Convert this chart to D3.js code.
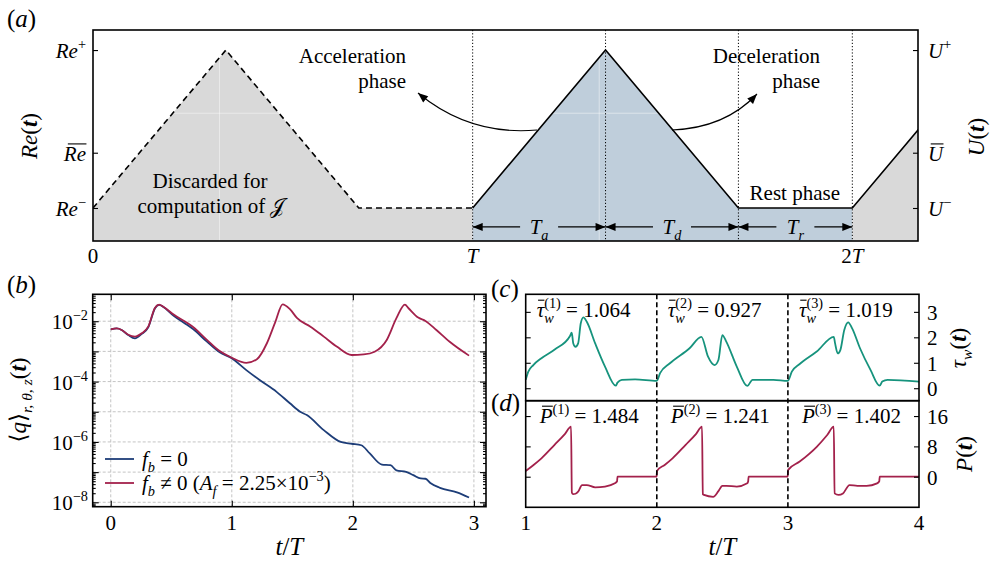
<!DOCTYPE html>
<html>
<head>
<meta charset="utf-8">
<script src="https://cdn.jsdelivr.net/npm/d3@7"></script>
<style>
  body { margin: 0; background: #fff; }
  text { font-family: "Liberation Serif", "DejaVu Serif", serif; fill: #000; }
</style>
</head>
<body>
<svg width="993" height="563"></svg>
<script>
// ---- values ----

// (a) one forcing cycle, t in units of T, Re scaled so that Re- = 0 and Re+ = 1
const cycleT = [0, 0.35, 0.70, 1.00];
const cycleRe = [0, 1, 0, 0];
const reMean = 0.35;
const phaseSubs = ["a", "d", "r"];
const aTickLabels = ["0", "T", "2T"];

// (b) log10 <q>_{r,theta,z}(t)
const blueT = [0, 0.05, 0.09, 0.145, 0.2, 0.256, 0.31, 0.366, 0.40, 0.435, 0.52, 0.63, 0.68, 0.79, 0.90,
  1.0, 1.12, 1.23, 1.37, 1.48, 1.565, 1.62, 1.76, 1.90, 1.99, 2.07, 2.14, 2.24, 2.31, 2.36,
  2.44, 2.50, 2.56, 2.60, 2.64, 2.72, 2.86, 2.96];
const blueQ = [-2.27, -2.24, -2.29, -2.46, -2.57, -2.42, -2.20, -1.57, -1.46, -1.53, -1.82, -2.12, -2.26, -2.66, -3.03,
  -3.23, -3.62, -3.95, -4.34, -4.72, -5.0, -5.11, -5.61, -6.0, -6.06, -6.11, -6.38, -6.75, -6.77, -6.94,
  -6.99, -7.10, -7.21, -7.22, -7.36, -7.52, -7.67, -7.84];
const redT = [0, 0.05, 0.09, 0.145, 0.2, 0.256, 0.31, 0.366, 0.40, 0.435, 0.52, 0.63, 0.68, 0.79, 0.90,
  1.0, 1.12, 1.21, 1.29, 1.36, 1.42, 1.48, 1.54, 1.65, 1.76, 1.87, 1.99, 2.09, 2.18, 2.28,
  2.36, 2.43, 2.46, 2.54, 2.60, 2.69, 2.80, 2.96];
const redQ = [-2.27, -2.24, -2.29, -2.45, -2.51, -2.40, -2.18, -1.55, -1.45, -1.52, -1.78, -2.05, -2.19, -2.60, -2.99,
  -3.21, -3.38, -3.25, -2.73, -2.02, -1.44, -1.60, -1.90, -2.18, -2.51, -2.85, -3.12, -3.10, -3.01, -2.62,
  -1.90, -1.45, -1.57, -1.88, -1.99, -2.29, -2.68, -3.14];
const bDecades = [-8, -7, -6, -5, -4, -3, -2];
const bLabelled = [-8, -6, -4, -2];
const bXTicks = [0, 1, 2, 3];

// (c) wall shear stress
const tauT = [1.0, 1.02, 1.058, 1.12, 1.224, 1.338, 1.351, 1.363, 1.38, 1.40, 1.42, 1.44, 1.466, 1.53, 1.605, 1.687, 1.70, 1.733, 1.834, 2.0,
  2.025, 2.10, 2.25, 2.34, 2.39, 2.44, 2.47, 2.50, 2.53, 2.61, 2.69, 2.73, 2.89, 3.0,
  3.03, 3.09, 3.22, 3.35, 3.36, 3.38, 3.40, 3.43, 3.46, 3.49, 3.55, 3.63, 3.70, 3.72, 3.76, 4.0];
const tauW = [0.33, 0.65, 0.91, 1.18, 1.53, 2.05, 2.18, 1.76, 1.63, 1.76, 2.55, 2.78, 2.61, 1.76, 0.85, 0.10, 0.22, 0.33, 0.35, 0.29,
  0.59, 0.98, 1.57, 2.02, 1.25, 0.91, 1.11, 2.09, 1.83, 0.85, 0.09, 0.33, 0.33, 0.29,
  0.65, 0.95, 1.44, 2.02, 1.76, 1.37, 1.50, 2.29, 2.59, 2.35, 1.57, 0.72, 0.10, 0.26, 0.33, 0.26];
const tauMeans = ["1.064", "0.927", "1.019"];
const cTicks = [0, 1, 2, 3];

// (d) pumping power
const pT = [1.0, 1.06, 1.12, 1.22, 1.30, 1.346, 1.352, 1.362, 1.38, 1.40, 1.43, 1.466, 1.53, 1.605, 1.68, 1.697, 1.70, 1.998,
  2.002, 2.06, 2.12, 2.22, 2.30, 2.345, 2.351, 2.36, 2.43, 2.47, 2.50, 2.53, 2.61, 2.69, 2.697, 2.70, 2.998,
  3.002, 3.09, 3.22, 3.30, 3.35, 3.356, 3.386, 3.42, 3.47, 3.53, 3.60, 3.68, 3.697, 3.70, 4.0];
const pVal = [1.5, 3.1, 4.85, 8.4, 11.3, 13.2, -4.2, -4.6, -4.5, -3.95, -2.2, -2.2, -2.8, -2.6, -1.75, -1.2, 0, 0,
  1.6, 3.1, 4.85, 8.4, 11.3, 13.2, -4.6, -4.8, -5.3, -3.8, -2.4, -2.4, -2.6, -1.75, -1.2, 0, 0,
  1.8, 4.0, 7.9, 11.0, 13.2, -4.4, -4.8, -4.4, -2.2, -2.4, -2.4, -1.75, -1.2, 0, 0];
const pMeans = ["1.484", "1.241", "1.402"];
const dTicks = [0, 8, 16];
const cdXTicks = [1, 2, 3, 4];

// ---- drawing ----
const svg = d3.select("svg");
const ink = "#000";
const navy = "#1d3d78", crimson = "#a3214b", teal = "#16937d";
const greyFill = "#d9d9d9", blueFill = "#bfcedb";

const defs = svg.append("defs");
defs.append("marker").attr("id", "head")
  .attr("viewBox", "0 0 10 8").attr("refX", 10).attr("refY", 4)
  .attr("markerWidth", 11).attr("markerHeight", 8).attr("markerUnits", "userSpaceOnUse")
  .attr("orient", "auto")
  .append("path").attr("d", "M0,0L10,4L0,8z").attr("fill", ink);

// text made of runs: italic, bold, sub, sup, bar (overline), stack (sup over the previous sub)
function rich(parent, x, y, runs, o = {}) {
  const size = o.size || 21;
  const g = parent.append("g");
  let cx = 0, start = 0;
  runs.forEach(r => {
    const small = r.sub || r.sup;
    const fs = small ? size * 0.68 : size;
    const dy = r.sub ? size * 0.27 : r.sup ? -size * 0.42 : 0;
    const x0 = r.stack ? start : cx;
    const t = g.append("text").attr("x", x0).attr("y", dy)
      .attr("font-size", fs)
      .attr("font-style", r.it ? "italic" : null)
      .attr("font-weight", r.b ? "bold" : null)
      .text(r.t);
    const w = t.node().getComputedTextLength();
    if (r.bar) {
      const yb = dy - fs * 0.8;
      g.append("line").attr("x1", x0 + w * 0.18).attr("x2", x0 + w * 1.02)
        .attr("y1", yb).attr("y2", yb).attr("stroke", ink).attr("stroke-width", 1.1);
    }
    if (r.stack) cx = Math.max(cx, x0 + w);
    else { start = x0; cx = x0 + w; }
  });
  const shift = o.anchor === "end" ? -cx : o.anchor === "middle" ? -cx / 2 : 0;
  g.attr("transform", `translate(${x},${y})${o.rot ? ` rotate(${o.rot})` : ""} translate(${shift},0)`);
  return g;
}

function tickMarks(g, axis, transform) {
  const t = g.append("g").attr("transform", transform).call(axis);
  t.select(".domain").remove();
  t.selectAll("text").remove();
  t.selectAll("line").attr("stroke", ink).attr("stroke-width", 1.1);
}

function frame(g, x0, x1, y0, y1) {
  g.append("rect").attr("x", x0).attr("y", y0).attr("width", x1 - x0).attr("height", y1 - y0)
    .attr("fill", "none").attr("stroke", ink).attr("stroke-width", 1.6);
}

const tLabel = [{ t: "t", it: 1 }, { t: "/" }, { t: "T", it: 1 }];

// ===== (a) =====
const xA = d3.scaleLinear().domain([0, 2.173]).range([93, 918]);
const yA = d3.scaleLinear().domain([-0.209, 1.127]).range([241, 30]);
const gA = svg.append("g");
defs.append("clipPath").attr("id", "clipA").append("rect")
  .attr("x", xA.range()[0]).attr("y", yA.range()[1])
  .attr("width", xA.range()[1] - xA.range()[0]).attr("height", yA.range()[0] - yA.range()[1]);

const wave = d3.range(3).flatMap(k => cycleT.map((t, i) => [k + t, cycleRe[i]]));
const first = wave.filter(d => d[0] <= 1);
const second = wave.filter(d => d[0] >= 1 && d[0] <= 2);
const rest = wave.filter(d => d[0] >= 2);
const areaA = d3.area().x(d => xA(d[0])).y0(yA.range()[0]).y1(d => yA(d[1]));
const lineA = d3.line().x(d => xA(d[0])).y(d => yA(d[1]));
const plotA = gA.append("g").attr("clip-path", "url(#clipA)");

plotA.append("path").datum(first).attr("d", areaA).attr("fill", greyFill);
plotA.append("path").datum(second).attr("d", areaA).attr("fill", blueFill);
plotA.append("path").datum(rest).attr("d", areaA).attr("fill", greyFill);

// faint white grid showing through the fills
[1 / 3, 4 / 3].forEach(v => plotA.append("line")
  .attr("x1", xA(v)).attr("x2", xA(v)).attr("y1", yA.range()[1]).attr("y2", yA.range()[0])
  .attr("stroke", "#fff").attr("stroke-opacity", 0.45));
plotA.append("line").attr("x1", xA.range()[0]).attr("x2", xA.range()[1])
  .attr("y1", yA(0.6)).attr("y2", yA(0.6)).attr("stroke", "#fff").attr("stroke-opacity", 0.45);

// phase boundaries
cycleT.map(t => 1 + t).forEach(v => plotA.append("line")
  .attr("x1", xA(v)).attr("x2", xA(v)).attr("y1", yA.range()[1]).attr("y2", yA.range()[0])
  .attr("stroke", ink).attr("stroke-width", 1).attr("stroke-dasharray", "1.2,2"));

plotA.append("path").datum(first).attr("d", lineA).attr("fill", "none")
  .attr("stroke", ink).attr("stroke-width", 1.6).attr("stroke-dasharray", "6,4");
plotA.append("path").datum(wave.filter(d => d[0] >= 1)).attr("d", lineA).attr("fill", "none")
  .attr("stroke", ink).attr("stroke-width", 1.6);

// phase duration arrows
const arrowY = yA(-0.12);
phaseSubs.forEach((s, i) => {
  const a = xA(1 + cycleT[i]), b = xA(1 + cycleT[i + 1]), m = (a + b) / 2;
  gA.append("line").attr("x1", m - 19).attr("x2", a).attr("y1", arrowY).attr("y2", arrowY)
    .attr("stroke", ink).attr("stroke-width", 1.2).attr("marker-end", "url(#head)");
  gA.append("line").attr("x1", m + 19).attr("x2", b).attr("y1", arrowY).attr("y2", arrowY)
    .attr("stroke", ink).attr("stroke-width", 1.2).attr("marker-end", "url(#head)");
  rich(gA, m, arrowY + 7, [{ t: "T", it: 1 }, { t: s, it: 1, sub: 1 }], { anchor: "middle" });
});

// curved pointers from the ramps to the phase names
gA.append("path").attr("d", "M537,130 Q470,136 418,93").attr("fill", "none")
  .attr("stroke", ink).attr("stroke-width", 1.1).attr("marker-end", "url(#head)");
gA.append("path").attr("d", "M672,130 Q725,128 757,94").attr("fill", "none")
  .attr("stroke", ink).attr("stroke-width", 1.1).attr("marker-end", "url(#head)");

const note = (x, y, s, anchor) => gA.append("text").attr("x", x).attr("y", y)
  .attr("font-size", 21).attr("text-anchor", anchor).text(s);
note(406, 63, "Acceleration", "end");
note(406, 88, "phase", "end");
note(820, 63, "Deceleration", "end");
note(820, 88, "phase", "end");
note(840, 200, "Rest phase", "end");
note(210, 188, "Discarded for", "middle");
note(211, 213, "computation of \u{1D4A5}", "middle");

frame(gA, xA.range()[0], xA.range()[1], yA.range()[1], yA.range()[0]);
const reTicks = [1, reMean, 0];
tickMarks(gA, d3.axisLeft(yA).tickValues(reTicks).tickSize(-5), `translate(${xA.range()[0]},0)`);
tickMarks(gA, d3.axisRight(yA).tickValues(reTicks).tickSize(-5), `translate(${xA.range()[1]},0)`);

rich(gA, 86, yA(1) + 8, [{ t: "Re", it: 1 }, { t: "+", sup: 1 }], { anchor: "end" });
rich(gA, 86, yA(reMean) + 8, [{ t: "Re", it: 1, bar: 1 }], { anchor: "end" });
rich(gA, 86, yA(0) + 8, [{ t: "Re", it: 1 }, { t: "\u2212", sup: 1 }], { anchor: "end" });
rich(gA, 928, yA(1) + 8, [{ t: "U", it: 1 }, { t: "+", sup: 1 }]);
rich(gA, 928, yA(reMean) + 8, [{ t: "U", it: 1, bar: 1 }]);
rich(gA, 928, yA(0) + 8, [{ t: "U", it: 1 }, { t: "\u2212", sup: 1 }]);

aTickLabels.forEach((s, i) => rich(gA, xA(i), 263,
  s === "0" ? [{ t: s }] : [{ t: s.replace("T", "") }, { t: "T", it: 1 }], { anchor: "middle" }));

rich(gA, 37, 136, [{ t: "Re", it: 1 }, { t: "(" }, { t: "t", it: 1, b: 1 }, { t: ")" }], { rot: -90, anchor: "middle", size: 23 });
rich(gA, 984, 137, [{ t: "U", it: 1 }, { t: "(" }, { t: "t", it: 1, b: 1 }, { t: ")" }], { rot: -90, anchor: "middle", size: 23 });
rich(gA, 7, 27, [{ t: "(" }, { t: "a", it: 1 }, { t: ")" }], { size: 25 });

// ===== (b) =====
const xB = d3.scaleLinear().domain([-0.149, 3.10]).range([92.7, 486]);
const yB = d3.scaleLog().domain([10 ** -8.146, 10 ** -1.108]).range([506.7, 294.3]);
const gB = svg.append("g");
const [bx0, bx1] = xB.range(), [by1, by0] = yB.range();

bDecades.forEach(e => gB.append("line").attr("x1", bx0).attr("x2", bx1)
  .attr("y1", yB(10 ** e)).attr("y2", yB(10 ** e))
  .attr("stroke", "#bdbdbd").attr("stroke-width", 0.9).attr("stroke-dasharray", "3,2"));
bXTicks.forEach(v => gB.append("line").attr("x1", xB(v)).attr("x2", xB(v))
  .attr("y1", by0).attr("y2", by1)
  .attr("stroke", "#bdbdbd").attr("stroke-width", 0.9).attr("stroke-dasharray", "3,2"));

const lineB = d3.line().curve(d3.curveMonotoneX).x(d => xB(d[0])).y(d => yB(10 ** d[1]));
gB.append("path").datum(blueT.map((t, i) => [t, blueQ[i]])).attr("d", lineB)
  .attr("fill", "none").attr("stroke", navy).attr("stroke-width", 1.8);
gB.append("path").datum(redT.map((t, i) => [t, redQ[i]])).attr("d", lineB)
  .attr("fill", "none").attr("stroke", crimson).attr("stroke-width", 1.8);

frame(gB, bx0, bx1, by0, by1);
const decadeVals = bDecades.map(e => 10 ** e);
const minorVals = d3.range(-9, -1).flatMap(e => d3.range(2, 10).map(m => m * 10 ** e))
  .filter(v => v > yB.domain()[0] && v < yB.domain()[1]);
tickMarks(gB, d3.axisLeft(yB).tickValues(decadeVals).tickSize(-6), `translate(${bx0},0)`);
tickMarks(gB, d3.axisLeft(yB).tickValues(minorVals).tickSize(-3), `translate(${bx0},0)`);
tickMarks(gB, d3.axisRight(yB).tickValues(decadeVals).tickSize(-6), `translate(${bx1},0)`);
tickMarks(gB, d3.axisRight(yB).tickValues(minorVals).tickSize(-3), `translate(${bx1},0)`);
tickMarks(gB, d3.axisBottom(xB).tickValues(bXTicks).tickSize(-6), `translate(0,${by1})`);
tickMarks(gB, d3.axisTop(xB).tickValues(bXTicks).tickSize(-6), `translate(0,${by0})`);

bLabelled.forEach(e => rich(gB, 88, yB(10 ** e) + 8,
  [{ t: "10" }, { t: "\u2212" + (-e), sup: 1 }], { anchor: "end" }));
bXTicks.forEach(v => rich(gB, xB(v), 530, [{ t: String(v) }], { anchor: "middle" }));
rich(gB, (bx0 + bx1) / 2, 555, tLabel, { anchor: "middle", size: 25 });
rich(gB, 26, 400, [{ t: "\u27E8" }, { t: "q", it: 1 }, { t: "\u27E9" }, { t: "r, \u03B8, z", it: 1, sub: 1 },
  { t: "(" }, { t: "t", it: 1, b: 1 }, { t: ")" }], { rot: -90, anchor: "middle", size: 23 });
rich(gB, 7, 293, [{ t: "(" }, { t: "b", it: 1 }, { t: ")" }], { size: 25 });

// legend
const legend = [
  { c: navy, runs: [{ t: "f", it: 1 }, { t: "b", it: 1, sub: 1 }, { t: "\u00A0= 0" }] },
  { c: crimson, runs: [{ t: "f", it: 1 }, { t: "b", it: 1, sub: 1 }, { t: "\u00A0\u2260 0 (" }, { t: "A", it: 1 },
    { t: "f", it: 1, sub: 1 }, { t: "\u00A0= 2.25\u00D710" }, { t: "\u22123", sup: 1 }, { t: ")" }] }
];
legend.forEach((l, i) => {
  const y = 459 + i * 24;
  gB.append("line").attr("x1", 105).attr("x2", 134).attr("y1", y).attr("y2", y)
    .attr("stroke", l.c).attr("stroke-width", 1.8);
  rich(gB, 142, y + 7, l.runs);
});

// ===== (c) and (d) =====
const xC = d3.scaleLinear().domain([1, 4]).range([525.7, 919]);
const yC = d3.scaleLinear().domain([-0.49, 3.69]).range([400.7, 294.3]);
const yD = d3.scaleLinear().domain([-8.07, 20.05]).range([507.3, 400.7]);
const gC = svg.append("g");
const [cx0, cx1] = xC.range();

gC.append("path").datum(tauT.map((t, i) => [t, tauW[i]]))
  .attr("d", d3.line().curve(d3.curveMonotoneX).x(d => xC(d[0])).y(d => yC(d[1])))
  .attr("fill", "none").attr("stroke", teal).attr("stroke-width", 1.8);
gC.append("path").datum(pT.map((t, i) => [t, pVal[i]]))
  .attr("d", d3.line().curve(d3.curveMonotoneX).x(d => xC(d[0])).y(d => yD(d[1])))
  .attr("fill", "none").attr("stroke", crimson).attr("stroke-width", 1.8);

[2, 3].forEach(v => gC.append("line").attr("x1", xC(v)).attr("x2", xC(v))
  .attr("y1", yC.range()[1]).attr("y2", yD.range()[0])
  .attr("stroke", ink).attr("stroke-width", 1.6).attr("stroke-dasharray", "5,3"));

frame(gC, cx0, cx1, yC.range()[1], yC.range()[0]);
frame(gC, cx0, cx1, yD.range()[1], yD.range()[0]);
tickMarks(gC, d3.axisLeft(yC).tickValues(cTicks).tickSize(-5), `translate(${cx0},0)`);
tickMarks(gC, d3.axisRight(yC).tickValues(cTicks).tickSize(-5), `translate(${cx1},0)`);
tickMarks(gC, d3.axisLeft(yD).tickValues(dTicks).tickSize(-5), `translate(${cx0},0)`);
tickMarks(gC, d3.axisRight(yD).tickValues(dTicks).tickSize(-5), `translate(${cx1},0)`);

cTicks.forEach(v => rich(gC, 927, yC(v) + 8, [{ t: String(v) }]));
dTicks.forEach(v => rich(gC, 927, yD(v) + 8, [{ t: String(v) }]));
cdXTicks.forEach(v => rich(gC, xC(v), 530, [{ t: String(v) }], { anchor: "middle" }));

tauMeans.forEach((m, i) => rich(gC, xC(i + 1) + 11, 317, [
  { t: "\u03C4", it: 1, bar: 1 }, { t: "w", it: 1, sub: 1 }, { t: `(${i + 1})`, sup: 1, stack: 1 },
  { t: "\u00A0= " + m }]));
pMeans.forEach((m, i) => rich(gC, xC(i + 1) + 14, 423, [
  { t: "P", it: 1, bar: 1 }, { t: `(${i + 1})`, sup: 1 }, { t: "\u00A0= " + m }]));

rich(gC, (cx0 + cx1) / 2, 555, tLabel, { anchor: "middle", size: 25 });
rich(gC, 966, 348, [{ t: "\u03C4", it: 1 }, { t: "w", it: 1, sub: 1 }, { t: "(" }, { t: "t", it: 1, b: 1 }, { t: ")" }],
  { rot: -90, anchor: "middle", size: 23 });
rich(gC, 972, 454, [{ t: "P", it: 1 }, { t: "(" }, { t: "t", it: 1, b: 1 }, { t: ")" }],
  { rot: -90, anchor: "middle", size: 23 });
rich(gC, 491, 297, [{ t: "(" }, { t: "c", it: 1 }, { t: ")" }], { size: 25 });
rich(gC, 491, 411, [{ t: "(" }, { t: "d", it: 1 }, { t: ")" }], { size: 25 });
</script>
</body>
</html>
